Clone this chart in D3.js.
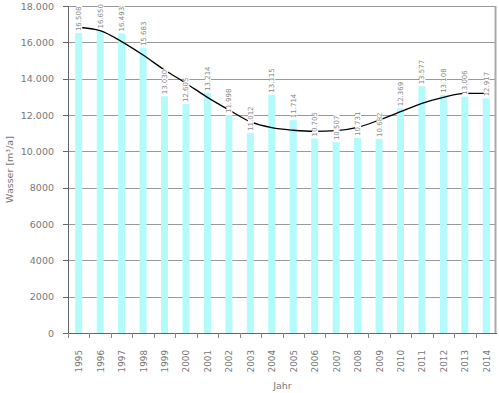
<!DOCTYPE html>
<html>
<head>
<meta charset="utf-8">
<script src="https://cdn.jsdelivr.net/npm/d3@7"></script>
<style>
  body { margin: 0; background: #fff; }
  text { font-family: "DejaVu Sans", sans-serif; fill: #777; }
</style>
</head>
<body>
<div id="chart"></div>
<script>
var years = ["1995", "1996", "1997", "1998", "1999", "2000", "2001", "2002", "2003", "2004",
             "2005", "2006", "2007", "2008", "2009", "2010", "2011", "2012", "2013", "2014"];
var wasser = [16508, 16650, 16493, 15683, 13030, 12605, 13214, 11998, 11012, 13115,
              11714, 10705, 10507, 10731, 10682, 12369, 13577, 13108, 13006, 12917];
var trend = [16830, 16640, 16040, 15300, 14480, 13750, 12970, 12280, 11630, 11300,
             11160, 11100, 11140, 11320, 11720, 12180, 12640, 12970, 13190, 13190];
var yTicks = [0, 2000, 4000, 6000, 8000, 10000, 12000, 14000, 16000, 18000];

var width = 499, height = 393,
    m = { top: 6, right: 2, bottom: 60, left: 68 };

var svg = d3.select("#chart").append("svg")
    .attr("width", width)
    .attr("height", height);

var x = d3.scaleBand()
    .domain(years)
    .range([m.left, width - m.right]);

var y = d3.scaleLinear()
    .domain([0, 18000])
    .range([height - m.bottom, m.top]);

var de = d3.formatLocale({ decimal: ",", thousands: ".", grouping: [3], currency: ["", "€"] });
var fmtTick = function(v) { return v >= 10000 ? de.format(",")(v) : String(v); };
var fmtVal = function(v) { return de.format(",")(v); };

// grid
svg.append("g").selectAll("line")
  .data(yTicks.filter(function(d) { return d > 0; }))
  .enter().append("line")
    .attr("x1", m.left).attr("x2", width - m.right - 1)
    .attr("y1", function(d) { return Math.round(y(d)) + 0.5; })
    .attr("y2", function(d) { return Math.round(y(d)) + 0.5; })
    .attr("stroke", "#999");

// right border
svg.append("line")
  .attr("x1", width - m.right - 1.5).attr("x2", width - m.right - 1.5)
  .attr("y1", y(18000)).attr("y2", y(0))
  .attr("stroke", "#aaa").attr("stroke-width", 2);

// bars
var bw = 7;
svg.append("g").selectAll("rect")
  .data(wasser)
  .enter().append("rect")
    .attr("x", function(d, i) { return x(years[i]) + x.bandwidth() / 2 - bw / 2; })
    .attr("y", function(d) { return y(d); })
    .attr("width", bw)
    .attr("height", function(d) { return y(0) - y(d); })
    .attr("fill", "#b3fbfb");

// trend line
var line = d3.line()
    .x(function(d, i) { return x(years[i]) + x.bandwidth() / 2; })
    .y(function(d) { return y(d); })
    .curve(d3.curveMonotoneX);

svg.append("path")
  .datum(trend)
  .attr("d", line)
  .attr("fill", "none")
  .attr("stroke", "#000")
  .attr("stroke-width", 1.3);

// value labels
var lab = svg.append("g").selectAll("g")
  .data(wasser)
  .enter().append("g")
    .attr("transform", function(d, i) {
      return "translate(" + (x(years[i]) + x.bandwidth() / 2 + 2.5) + "," + (y(d) - 2) + ") rotate(-90)";
    });

lab.append("text")
  .attr("font-size", 7)
  .style("fill", "#888")
  .text(function(d) { return fmtVal(d); })
  .each(function() {
    var b = this.getBBox();
    d3.select(this.parentNode).insert("rect", "text")
      .attr("x", b.x - 0.5).attr("y", b.y + 1)
      .attr("width", b.width + 1).attr("height", b.height - 2)
      .attr("fill", "#fff");
  });

// y axis
var ya = svg.append("g");
ya.append("line")
  .attr("x1", m.left + 0.5).attr("x2", m.left + 0.5)
  .attr("y1", y(18000)).attr("y2", y(0) + 5)
  .attr("stroke", "#666");
ya.selectAll(".tick")
  .data(yTicks)
  .enter().append("line")
    .attr("x1", m.left - 5).attr("x2", m.left)
    .attr("y1", function(d) { return Math.round(y(d)) + 0.5; })
    .attr("y2", function(d) { return Math.round(y(d)) + 0.5; })
    .attr("stroke", "#666");
ya.selectAll("text")
  .data(yTicks)
  .enter().append("text")
    .attr("x", 54)
    .attr("y", function(d) { return y(d) + 3.5; })
    .attr("text-anchor", "end")
    .attr("font-size", 9.5)
    .text(fmtTick);

// x axis
var xa = svg.append("g");
xa.append("line")
  .attr("x1", m.left - 5).attr("x2", width - m.right)
  .attr("y1", y(0) + 0.5).attr("y2", y(0) + 0.5)
  .attr("stroke", "#666");
xa.selectAll(".tick")
  .data(years)
  .enter().append("line")
    .attr("x1", function(d) { return Math.round(x(d)) + 0.5; })
    .attr("x2", function(d) { return Math.round(x(d)) + 0.5; })
    .attr("y1", y(0)).attr("y2", y(0) + 5)
    .attr("stroke", "#888");
xa.selectAll("text")
  .data(years)
  .enter().append("text")
    .attr("transform", function(d) {
      return "translate(" + (x(d) + x.bandwidth() / 2 + 3.5) + "," + (y(0) + 17) + ") rotate(-90)";
    })
    .attr("text-anchor", "end")
    .attr("font-size", 8.8)
    .text(function(d) { return d; });

// titles
svg.append("text")
  .attr("x", (m.left + width - m.right) / 2)
  .attr("y", 389)
  .attr("text-anchor", "middle")
  .attr("font-size", 9.5)
  .text("Jahr");

svg.append("text")
  .attr("transform", "translate(13," + (y(9000)) + ") rotate(-90)")
  .attr("text-anchor", "middle")
  .attr("font-size", 9.5)
  .text("Wasser [m³/a]");
</script>
</body>
</html>
